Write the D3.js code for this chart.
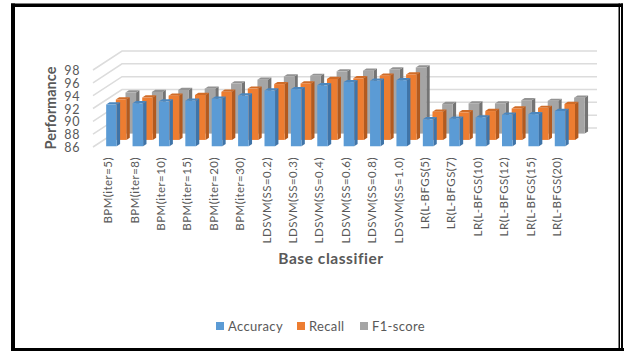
<!DOCTYPE html>
<html>
<head>
<meta charset="utf-8">
<script src="https://cdn.jsdelivr.net/npm/d3@7/dist/d3.min.js"></script>
<style>
  html, body { margin: 0; padding: 0; background: #fff; }
  svg { display: block; }
  text { font-family: Lato, "Open Sans", sans-serif; fill: #595959; }
</style>
</head>
<body>
<svg id="chart" width="624" height="351"></svg>
<script>
const categories = ["BPM(iter=5)", "BPM(iter=8)", "BPM(iter=10)", "BPM(iter=15)", "BPM(iter=20)", "BPM(iter=30)",
  "LDSVM(SS=0.2)", "LDSVM(SS=0.3)", "LDSVM(SS=0.4)", "LDSVM(SS=0.6)", "LDSVM(SS=0.8)", "LDSVM(SS=1.0)",
  "LR(L-BFGS(5)", "LR(L-BFGS(7)", "LR(L-BFGS(10)", "LR(L-BFGS(12)", "LR(L-BFGS(15)", "LR(L-BFGS(20)"];
const seriesNames = ["Accuracy", "Recall", "F1-score"];
const accuracy = [92.5, 92.7, 93.0, 93.1, 93.4, 93.9, 94.7, 94.9, 95.5, 96.0, 96.2, 96.3, 90.2, 90.3, 90.5, 90.9, 91.0, 91.5];
const recall = [92.3, 92.6, 92.9, 93.0, 93.5, 94.0, 94.7, 94.8, 95.5, 95.6, 96.0, 96.2, 90.4, 90.3, 90.5, 90.9, 91.0, 91.6];
const f1score = [92.4, 92.5, 92.8, 93.0, 93.8, 94.4, 94.9, 95.0, 95.7, 95.8, 96.0, 96.3, 90.6, 90.7, 90.7, 91.2, 91.1, 91.6];
const yTicks = [86, 88, 90, 92, 94, 96, 98];
const seriesValues = [accuracy, recall, f1score];
const faceColors = ["#5b9bd5", "#ed7d31", "#a5a5a5"];
const sideColors = ["#3f74a8", "#b25a1f", "#747474"];
const topColors = ["#4a86be", "#d06c28", "#939393"];

const svg = d3.select("#chart");

// Oblique projection of the 3-D column chart: depth runs from the front plane to the back wall.
const depthDx = 29, depthDy = -19;
const x = d3.scaleBand().domain(categories).range([93, 568]).paddingInner(0.6).paddingOuter(0.3).align(0.76);
const y = d3.scaleLinear().domain([86, 98]).range([147, 70]);
const z = d3.scaleBand().domain(seriesNames).range([0, 1]).paddingInner(0.65).paddingOuter(0.325).align(0.18);
const px = (sx, d) => sx + depthDx * d;
const py = (v, d) => y(v) + depthDy * d;
const poly = pts => pts.map(p => p.join(",")).join(" ");

// Back wall and side wall gridlines
const grid = svg.append("g").attr("fill", "none").attr("stroke", "#dcdcdc").attr("stroke-width", 1.5);
grid.selectAll("path").data(yTicks).join("path")
  .attr("d", v => `M${px(x.range()[0], 0)},${py(v, 0)}L${px(x.range()[0], 1)},${py(v, 1)}L${px(x.range()[1], 1)},${py(v, 1)}`);

// Columns, back row first so nearer rows overlap it
[2, 1, 0].forEach(si => {
  const name = seriesNames[si];
  const d0 = z(name), d1 = d0 + z.bandwidth();
  const rows = categories.map((c, i) => ({ c, v: seriesValues[si][i] }));
  const g = svg.append("g").attr("class", "series");
  g.selectAll("polygon.side").data(rows).join("polygon").attr("fill", sideColors[si])
    .attr("points", r => {
      const r0 = x(r.c) + x.bandwidth();
      return poly([[px(r0, d0), py(86, d0)], [px(r0, d1), py(86, d1)], [px(r0, d1), py(r.v, d1)], [px(r0, d0), py(r.v, d0)]]);
    });
  g.selectAll("polygon.top").data(rows).join("polygon").attr("fill", topColors[si])
    .attr("points", r => {
      const l = x(r.c), r0 = l + x.bandwidth();
      return poly([[px(l, d0), py(r.v, d0)], [px(r0, d0), py(r.v, d0)], [px(r0, d1), py(r.v, d1)], [px(l, d1), py(r.v, d1)]]);
    });
  g.selectAll("rect").data(rows).join("rect").attr("fill", faceColors[si])
    .attr("x", r => px(x(r.c), d0))
    .attr("y", r => py(r.v, d0))
    .attr("width", x.bandwidth())
    .attr("height", r => py(86, d0) - py(r.v, d0));
});

// Value axis
const yAxis = svg.append("g").attr("transform", "translate(80,0)")
  .call(d3.axisLeft(y).tickValues(yTicks).tickSize(0).tickPadding(0));
yAxis.select(".domain").remove();
yAxis.selectAll("text").attr("font-size", 12.5).attr("letter-spacing", 0.6).attr("dy", "0.36em");

// Category axis with labels rotated to read bottom-up
const xAxis = svg.append("g").attr("transform", "translate(-2.5,157)")
  .call(d3.axisBottom(x).tickSize(0).tickPadding(0));
xAxis.select(".domain").remove();
xAxis.selectAll("text")
  .attr("font-size", 11.5)
  .attr("letter-spacing", 0.45)
  .attr("text-anchor", "end")
  .attr("dy", null)
  .attr("y", 0)
  .attr("x", 0)
  .attr("dominant-baseline", "central")
  .attr("transform", "rotate(-90)");

// Axis titles
svg.append("text").attr("transform", "translate(50,108) rotate(-90)")
  .attr("text-anchor", "middle").attr("dominant-baseline", "central")
  .attr("font-size", 14.5).attr("font-weight", 700).text("Performance");
svg.append("text").attr("x", 331).attr("y", 258)
  .attr("text-anchor", "middle").attr("dominant-baseline", "central")
  .attr("font-size", 15.5).attr("font-weight", 700).attr("letter-spacing", 0.55).text("Base classifier");

// Legend
const legendX = [216, 297, 360];
const legend = svg.append("g").selectAll("g").data(seriesNames).join("g")
  .attr("transform", (d, i) => `translate(${legendX[i]},326)`);
legend.append("rect").attr("x", 0).attr("y", -4).attr("width", 8).attr("height", 8)
  .attr("fill", (d, i) => faceColors[i]);
legend.append("text").attr("x", 12).attr("dominant-baseline", "central")
  .attr("font-size", 13).attr("letter-spacing", 0.35).text(d => d);

// Page frame
const frame = svg.append("g").attr("fill", "#000");
frame.append("rect").attr("x", 11).attr("y", 3.5).attr("width", 612).attr("height", 3.5);
frame.append("rect").attr("x", 11).attr("y", 3.5).attr("width", 4).attr("height", 347.5);
frame.append("rect").attr("x", 11).attr("y", 348).attr("width", 613).attr("height", 3);
frame.append("rect").attr("x", 618.5).attr("y", 3.5).attr("width", 1.5).attr("height", 347.5);
frame.append("rect").attr("x", 621).attr("y", 3.5).attr("width", 2).attr("height", 347.5);
</script>
</body>
</html>
